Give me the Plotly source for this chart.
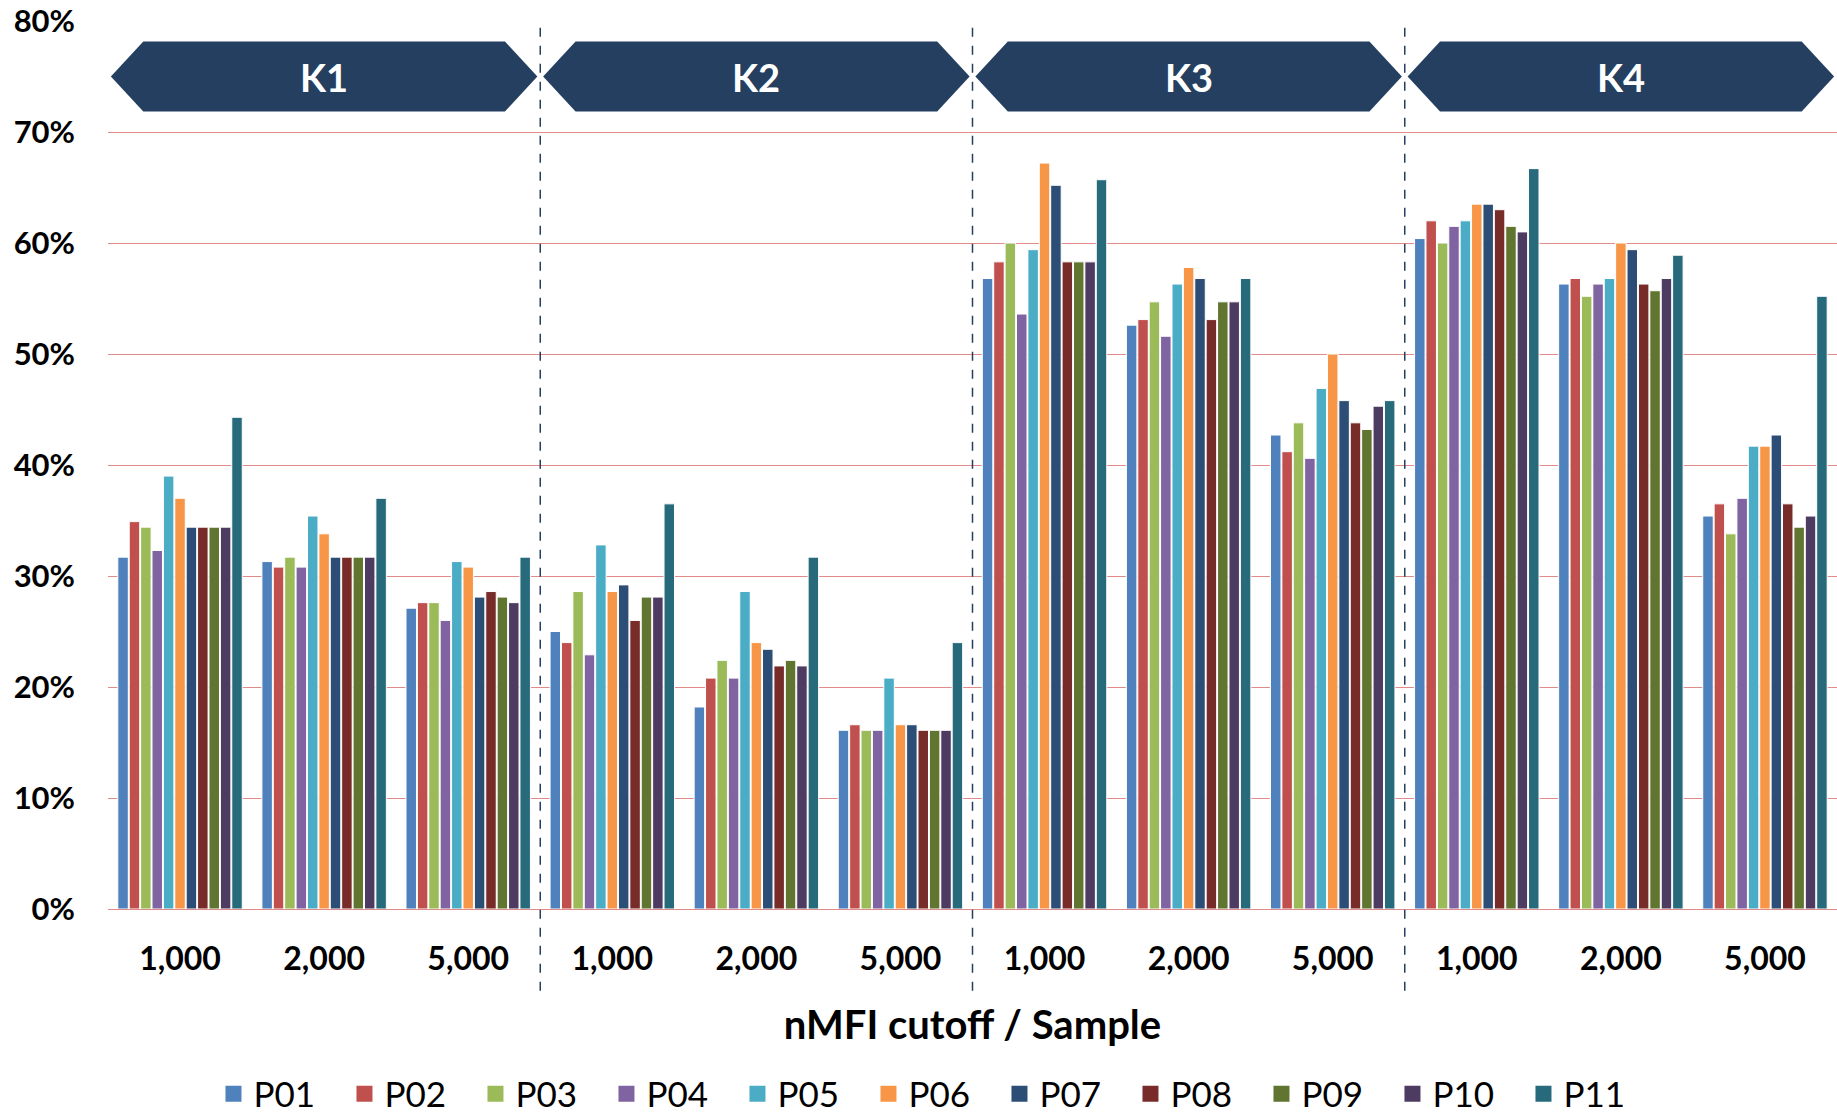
import plotly.graph_objects as go

clusters = ["K1", "K2", "K3", "K4"]
cutoffs = ["1,000", "2,000", "5,000"]
series_names = ["P01", "P02", "P03", "P04", "P05", "P06", "P07", "P08", "P09", "P10", "P11"]
colors = ["#4F81BD", "#C0504D", "#9BBB59", "#8064A2", "#4BACC6", "#F79646",
          "#2C4D75", "#772C2A", "#5F7530", "#4D3B62", "#276A7C"]

# values (%) per series, 12 categories: K1(1000,2000,5000), K2(...), K3(...), K4(...)
P01 = [31.7, 31.3, 27.1, 25.0, 18.2, 16.1, 56.8, 52.6, 42.7, 60.4, 56.3, 35.4]
P02 = [34.9, 30.8, 27.6, 24.0, 20.8, 16.6, 58.3, 53.1, 41.2, 62.0, 56.8, 36.5]
P03 = [34.4, 31.7, 27.6, 28.6, 22.4, 16.1, 60.0, 54.7, 43.8, 60.0, 55.2, 33.8]
P04 = [32.3, 30.8, 26.0, 22.9, 20.8, 16.1, 53.6, 51.6, 40.6, 61.5, 56.3, 37.0]
P05 = [39.0, 35.4, 31.3, 32.8, 28.6, 20.8, 59.4, 56.3, 46.9, 62.0, 56.8, 41.7]
P06 = [37.0, 33.8, 30.8, 28.6, 24.0, 16.6, 67.2, 57.8, 50.0, 63.5, 60.0, 41.7]
P07 = [34.4, 31.7, 28.1, 29.2, 23.4, 16.6, 65.2, 56.8, 45.8, 63.5, 59.4, 42.7]
P08 = [34.4, 31.7, 28.6, 26.0, 21.9, 16.1, 58.3, 53.1, 43.8, 63.0, 56.3, 36.5]
P09 = [34.4, 31.7, 28.1, 28.1, 22.4, 16.1, 58.3, 54.7, 43.2, 61.5, 55.7, 34.4]
P10 = [34.4, 31.7, 27.6, 28.1, 21.9, 16.1, 58.3, 54.7, 45.3, 61.0, 56.8, 35.4]
P11 = [44.3, 37.0, 31.7, 36.5, 31.7, 24.0, 65.7, 56.8, 45.8, 66.7, 58.9, 55.2]
series_values = [P01, P02, P03, P04, P05, P06, P07, P08, P09, P10, P11]

tick_labels = cutoffs * len(clusters)
x_pos = list(range(len(tick_labels)))

FONT = "Lato"
NAVY = "#243F60"

fig = go.Figure()
for name, col, vals in zip(series_names, colors, series_values):
    fig.add_trace(go.Bar(
        x=x_pos, y=[v / 100 for v in vals], name=name, legendgroup=name, showlegend=False,
        marker=dict(color=col, line=dict(color="white", width=1)),
    ))
# legend keys (larger square swatches)
for name, col in zip(series_names, colors):
    fig.add_trace(go.Scatter(
        x=[None], y=[None], mode="markers", name=name, legendgroup=name,
        marker=dict(symbol="square", size=16, color=col), hoverinfo="skip",
    ))

shapes = []
annotations = []
n_per = len(cutoffs)
for i, k in enumerate(clusters):
    x0 = i * n_per - 0.5
    x1 = x0 + n_per
    yt, yb, ym = 0.7815, 0.7185, 0.75
    a, b = 0.02, 0.245
    path = (f"M {x0+a},{ym} L {x0+b},{yt} L {x1-b},{yt} L {x1-a},{ym} "
            f"L {x1-b},{yb} L {x0+b},{yb} Z")
    shapes.append(dict(type="path", path=path, xref="x", yref="y",
                       fillcolor=NAVY, line=dict(width=0), layer="above"))
    annotations.append(dict(x=(x0 + x1) / 2, y=ym, xref="x", yref="y", text=f"<b>{k}</b>",
                            showarrow=False, font=dict(family=FONT, size=38, color="white")))
    if i > 0:
        shapes.append(dict(type="line", x0=x0, x1=x0, xref="x", yref="paper",
                           y0=-0.092, y1=1.0,
                           line=dict(color=NAVY, width=1.5, dash="dash"), layer="above"))

fig.update_layout(
    width=1837, height=1114,
    margin=dict(l=108, r=0, t=21, b=205, autoexpand=False),
    paper_bgcolor="white", plot_bgcolor="white",
    barmode="group", bargap=0.13, bargroupgap=0.08,
    font=dict(family=FONT, color="black"),
    shapes=shapes, annotations=annotations,
    legend=dict(orientation="h", x=0.061, xanchor="left",
                yref="container", y=0.018, yanchor="middle",
                font=dict(family=FONT, size=35, color="black"),
                entrywidth=86, entrywidthmode="pixels", traceorder="normal",
                itemsizing="trace"),
    showlegend=True,
)
fig.update_xaxes(
    range=[-0.5, len(tick_labels) - 0.5], tickmode="array", tickvals=x_pos,
    ticktext=[f"<b>{t}</b>" for t in tick_labels],
    tickfont=dict(family=FONT, size=32, color="black"), ticks="", ticklabelstandoff=28,
    showgrid=False, zeroline=False, showline=False, automargin=False,
    title=dict(text="<b>nMFI cutoff / Sample</b>", font=dict(family=FONT, size=40, color="black"),
               standoff=34),
)
fig.update_yaxes(
    range=[0, 0.8], dtick=0.1, tickformat=".0%",
    tickfont=dict(family=FONT, size=31, color="black"), ticklabelstandoff=32,
    showgrid=True, gridcolor="#E38B8B", gridwidth=1, automargin=False,
    zeroline=True, zerolinecolor="#E38B8B", zerolinewidth=1, showline=False,
    tickprefix="<b>", ticksuffix="</b>",
)
fig.write_html("out.html")
